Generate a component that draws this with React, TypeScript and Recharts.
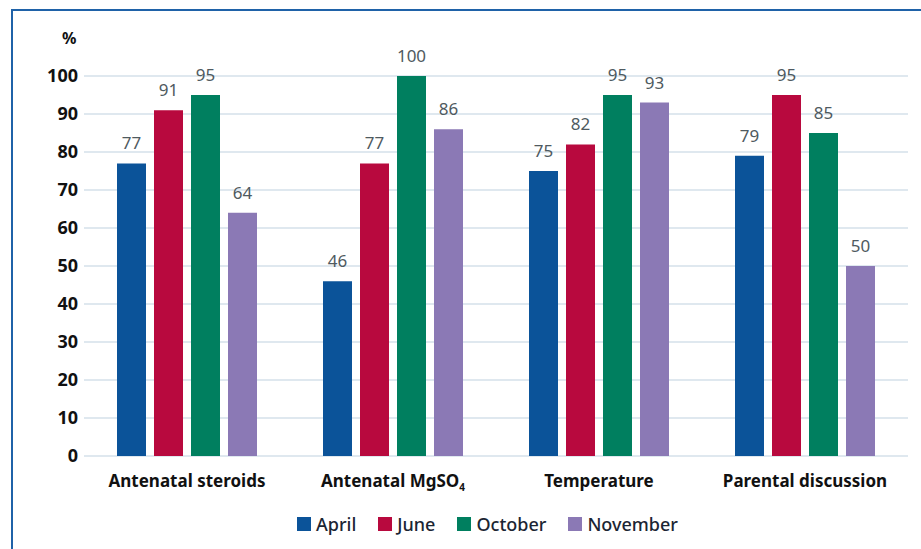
import React from 'react';
import { BarChart, Bar, XAxis, YAxis, CartesianGrid, LabelList, Legend } from 'recharts';

const categories = ['Antenatal steroids', 'Antenatal MgSO4', 'Temperature', 'Parental discussion'];
const april = [77, 46, 75, 79];
const june = [91, 77, 82, 95];
const october = [95, 100, 95, 85];
const november = [64, 86, 93, 50];
const yTicks = [0, 10, 20, 30, 40, 50, 60, 70, 80, 90, 100];

const series = [
  { key: 'april', name: 'April', color: '#0b5399' },
  { key: 'june', name: 'June', color: '#b8093e' },
  { key: 'october', name: 'October', color: '#007f5f' },
  { key: 'november', name: 'November', color: '#8b79b5' },
];

const data = categories.map((name, i) => ({
  name,
  april: april[i],
  june: june[i],
  october: october[i],
  november: november[i],
}));

const FONT = '"Noto Sans", "Open Sans", sans-serif';

// category tick; the MgSO4 label gets a real subscript 4
function CategoryTick(props: any) {
  const { x, y, payload } = props;
  const value: string = payload.value;
  const sub = value.endsWith('MgSO4');
  return (
    <text
      x={x}
      y={y}
      dy={12}
      textAnchor="middle"
      fontFamily={FONT}
      fontWeight={700}
      fontSize={17}
      fill="#111"
    >
      {sub ? (
        <>
          <tspan>{value.slice(0, -1)}</tspan>
          <tspan fontSize={10} dy={4}>4</tspan>
        </>
      ) : (
        value
      )}
    </text>
  );
}

function LegendContent() {
  return (
    <div
      style={{
        display: 'flex',
        justifyContent: 'center',
        gap: 22,
        fontFamily: FONT,
        paddingLeft: 54,
      }}
    >
      {series.map((s) => (
        <div key={s.key} style={{ display: 'flex', alignItems: 'center', gap: 5 }}>
          <div style={{ width: 14, height: 14, background: s.color }} />
          <span style={{ fontSize: 18, fontWeight: 500, color: '#1b2533' }}>{s.name}</span>
        </div>
      ))}
    </div>
  );
}

export default function App() {
  return (
    <div
      style={{
        position: 'absolute',
        left: 0,
        top: 0,
        width: 921,
        height: 549,
        background: '#fff',
        overflow: 'hidden',
      }}
    >
      <div
        style={{
          position: 'absolute',
          left: 11,
          top: 9,
          width: 940,
          height: 600,
          borderLeft: '2px solid #1f62a8',
          borderTop: '2px solid #1f62a8',
        }}
      />
      <div
        style={{
          position: 'absolute',
          left: 62,
          top: 27,
          fontFamily: FONT,
          fontWeight: 700,
          fontSize: 16,
          color: '#111',
        }}
      >
        %
      </div>
      <div style={{ position: 'absolute', left: 0, top: 0 }}>
        <BarChart
          width={921}
          height={549}
          data={data}
          margin={{ top: 76, right: 13, left: 0, bottom: 63 }}
          barSize={29}
          barGap={8}
        >
          <CartesianGrid vertical={false} stroke="#d4e1ea" strokeWidth={1.5} />
          <XAxis
            dataKey="name"
            axisLine={false}
            tickLine={false}
            height={30}
            tick={<CategoryTick />}
            tickSize={0}
            tickMargin={19}
            interval={0}
          />
          <YAxis
            width={84}
            domain={[0, 100]}
            ticks={yTicks}
            axisLine={false}
            tickLine={false}
            tickSize={4}
            tickMargin={2}
            tick={{ fontFamily: FONT, fontWeight: 700, fontSize: 18, fill: '#111' }}
          />
          <Legend
            verticalAlign="middle"
            content={<LegendContent />}
            wrapperStyle={{ top: 512, left: 0, width: 921 }}
          />
          {series.map((s) => (
            <Bar key={s.key} dataKey={s.key} name={s.name} fill={s.color} isAnimationActive={false}>
              <LabelList
                dataKey={s.key}
                position="top"
                offset={14}
                fill="#4f5a60"
                fontFamily={FONT}
                fontSize={17}
              />
            </Bar>
          ))}
        </BarChart>
      </div>
    </div>
  );
}
